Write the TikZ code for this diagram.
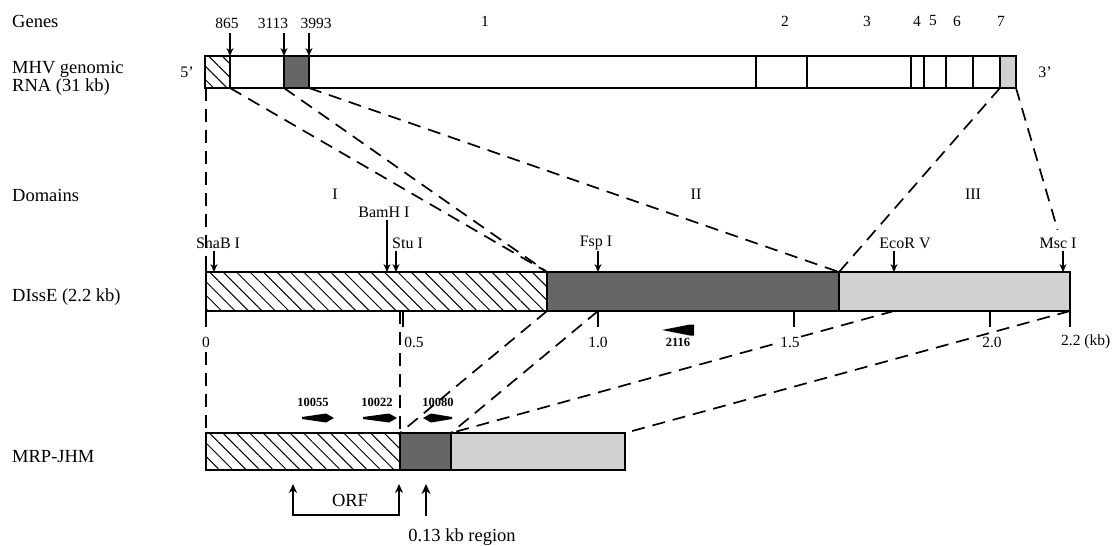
\documentclass[tikz,border=0pt]{standalone}
\usepackage{fontspec}
\setmainfont{Liberation Serif}
\usetikzlibrary{patterns.meta,arrows.meta}
\tikzset{
  bar/.style={draw=black, line width=1.8pt},
  divider/.style={draw=black, line width=1.3pt},
  hatch/.style={pattern={Lines[angle=-45,distance=9.5pt,line width=1pt]}},
  darkfill/.style={fill=black!60},
  lightfill/.style={fill=black!18},
  conn/.style={line width=1.7pt, dash pattern=on 13pt off 8pt},
  site/.style={-{Stealth[length=8pt,width=7pt]}, line width=1.3pt},
  tick/.style={line width=1.5pt},
  big/.style={font=\fontsize{18.5}{19}\selectfont, inner sep=0pt},
  mid/.style={font=\fontsize{16}{17}\selectfont, inner sep=0pt},
  num/.style={font=\fontsize{15.5}{16}\selectfont, inner sep=0pt},
  prim/.style={font=\bfseries\fontsize{12.5}{13}\selectfont, inner sep=0pt},
  primer/.style={fill=black},
}
\begin{document}
\begin{tikzpicture}[x=1pt,y=-1pt]
\useasboundingbox (0,0) rectangle (1114,546);

% ---------- left labels ----------
\node[big,anchor=west] (lgenes) at (12,21) {Genes};
\node[big,anchor=west,align=left,font=\fontsize{18.5}{18}\selectfont] (lmhv) at (12,78) {MHV genomic\\RNA (31 kb)};
\node[big,anchor=west] (ldom) at (12,195) {Domains};
\node[big,anchor=west] (ldis) at (12,297) {DIssE (2.2 kb)};
\node[big,anchor=west] (lmrp) at (12,457) {MRP-JHM};

% ---------- genomic RNA bar ----------
\fill[hatch] (205,56) rectangle (230,88);
\fill[darkfill] (284,56) rectangle (309,88);
\fill[lightfill] (1000,56) rectangle (1016,88);
\draw[bar] (205,56) rectangle (1016,88);
\foreach \x in {230,284,309,756,807,911,924,946,973,1000}
  \draw[divider] (\x,56) -- (\x,88);
\node[mid] (p5) at (187,72) {5'};
\node[mid] (p3) at (1045,72) {3'};
% gene numbers
\node[num] (gn1) at (485,21) {1};
\node[num] (gn2) at (785,21) {2};
\node[num] (gn3) at (867,21) {3};
\node[num] (gn4) at (917,21) {4};
\node[num] (gn5) at (933,21) {5};
\node[num] (gn6) at (957,21) {6};
\node[num] (gn7) at (1001,21) {7};
% position markers
\node[num] (n865) at (227,23) {865};
\node[num] (n3113) at (273,23) {3113};
\node[num] (n3993) at (316,23) {3993};
\coordinate (a865) at (230,56);
\coordinate (a3113) at (284,56);
\coordinate (a3993) at (309,56);
\draw[site] (230,33) -- (a865);
\draw[site] (284,33) -- (a3113);
\draw[site] (309,33) -- (a3993);

% genome bottom anchors
\coordinate (g0) at (206,88);
\coordinate (g865) at (230,88);
\coordinate (g3113) at (284,88);
\coordinate (g3993) at (309,88);
\coordinate (g7a) at (1000,88);
\coordinate (g7b) at (1016,88);

% ---------- domains ----------
\node[mid] (dI) at (335,194) {I};
\node[mid] (dII) at (696,194) {II};
\node[mid] (dIII) at (973,194) {III};

% ---------- DIssE bar ----------
\fill[hatch] (206,272) rectangle (547,311);
\fill[darkfill] (547,272) rectangle (839,311);
\fill[lightfill] (839,272) rectangle (1070,311);
\draw[bar] (206,272) rectangle (1070,311);
\draw[divider] (547,272) -- (547,311);
\draw[divider] (839,272) -- (839,311);

\coordinate (d0t) at (206,272);
\coordinate (dIt) at (547,272);
\coordinate (dIIt) at (839,272);
\coordinate (dIIIt) at (1070,272);
\coordinate (d0b) at (206,311);
\coordinate (dIb) at (547,311);
\coordinate (dFb) at (598,311);
\coordinate (dEb) at (894,311);
\coordinate (dEndb) at (1070,311);
\coordinate (d05b) at (400,311);

% restriction sites
\node[mid] (sna) at (218,243) {SnaB I};
\node[mid] (bam) at (384,212) {BamH I};
\node[mid,anchor=west] (stu) at (392,243) {Stu I};
\node[mid] (fsp) at (596,243) {Fsp I};
\node[mid] (eco) at (905,243) {EcoR V};
\node[mid] (msc) at (1058,243) {Msc I};
\draw[site] (214,251) -- (214,272);
\draw[site] (387,220) -- (387,272);
\draw[site] (396,251) -- (396,272);
\draw[site] (598,251) -- (598,272);
\draw[site] (894,251) -- (894,272);
\draw[site] (1063,251) -- (1063,272);

% scale ticks
\draw[tick] (206,257) -- (d0t);
\foreach \x in {206,403,598,794,990,1070}
  \draw[tick] (\x,311) -- (\x,327);

% ---------- connectors genome -> DIssE ----------
\draw[conn] (g0) -- (206,257);
\draw[conn] (g865) -- (dIt);
\draw[conn] (g3113) -- (dIt);
\draw[conn] (g3993) -- (dIIt);
\draw[conn] (g7a) -- (dIIt);
\draw[conn, shorten >=44pt] (g7b) -- (dIIIt);

% ---------- MRP-JHM bar ----------
\fill[hatch] (206,433) rectangle (400,470);
\fill[darkfill] (400,433) rectangle (451,470);
\fill[lightfill] (451,433) rectangle (625,470);
\draw[bar] (206,433) rectangle (625,470);
\draw[divider] (400,433) -- (400,470);
\draw[divider] (451,433) -- (451,470);
\coordinate (m0) at (206,433);
\coordinate (m05) at (400,433);
\coordinate (m13) at (451,433);
\coordinate (mend) at (625,433);

% ---------- connectors DIssE -> MRP ----------
\draw[conn] (206,352) -- (m0);
\draw[conn] (d05b) -- (m05);
\draw[conn] (dIb) -- (m05);
\draw[conn] (dFb) -- (m13);
\draw[conn] (dEb) -- (m13);
\draw[conn] (dEndb) -- (mend);

% scale labels
\node[num,fill=white,inner sep=1pt] (t0) at (206,342) {0};
\node[num,fill=white,inner sep=1pt] (t05) at (414,342) {0.5};
\node[num,fill=white,inner sep=1pt] (t10) at (598,342) {1.0};
\node[num,fill=white,inner sep=1pt] (t15) at (790,342) {1.5};
\node[num,fill=white,inner sep=1pt] (t20) at (992,342) {2.0};
\node[num,anchor=west] (t22) at (1061,342) {2.2 (kb)};

% ---------- primers ----------
\fill[primer] (662,330) -- (690,324.5) -- (694,324.5) -- (694,335.5) -- (690,335.5) -- cycle;
\node[prim] (p2116) at (678,342) {2116};
\fill[primer] (302,417) -- (326,413.5) -- (334,418) -- (326,422.5) -- (302,419) -- cycle;
\fill[primer] (363,417) -- (389,413.5) -- (397,418) -- (389,422.5) -- (363,419) -- cycle;
\fill[primer] (452,417) -- (431,413.5) -- (423,418) -- (431,422.5) -- (452,419) -- cycle;
\node[prim] (p10055) at (313,402) {10055};
\node[prim] (p10022) at (377,402) {10022};
\node[prim] (p10080) at (438,402) {10080};

% ---------- ORF and region ----------
\coordinate (orfA) at (293,484);
\coordinate (orfB) at (399,484);
\draw[line width=1.4pt, {Stealth[length=9pt,width=8pt]}-{Stealth[length=9pt,width=8pt]}] (orfA) -- (293,515) -- (399,515) -- (orfB);
\node[big] (orf) at (350,500) {ORF};
\coordinate (reg) at (426,484);
\draw[line width=2.4pt, -{Stealth[length=10pt,width=9pt]}] (426,516) -- (reg);
\node[big] (region) at (462,537) {0.13 kb region};
\end{tikzpicture}
\end{document}
